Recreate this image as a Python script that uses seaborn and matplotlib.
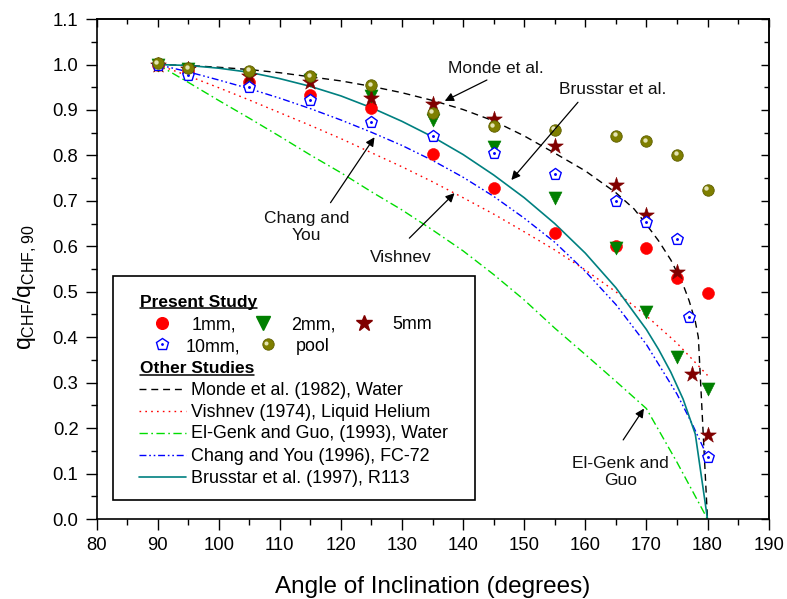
import matplotlib
matplotlib.use("Agg")
import matplotlib.pyplot as plt
from matplotlib.ticker import MultipleLocator, FormatStrFormatter
from matplotlib.transforms import offset_copy
from matplotlib.lines import Line2D
from matplotlib.patches import Rectangle
import seaborn as sns

# ---- measured CHF ratios q_CHF / q_CHF,90 ----
angle_main = [90, 95, 105, 115, 125, 135, 145, 155, 165, 170, 175, 180]
chf_1mm = [1.0, 0.985, 0.961, 0.932, 0.905, 0.804, 0.728, 0.629, 0.600, 0.597, 0.530, 0.497]
chf_2mm = [1.0, 0.990, 0.975, 0.965, 0.930, 0.877, 0.818, 0.707, 0.597, 0.456, 0.357, 0.286]
angle_5mm = [90, 95, 105, 115, 125, 135, 145, 155, 165, 170, 175, 177.5, 180]
chf_5mm = [1.0, 0.990, 0.974, 0.961, 0.927, 0.913, 0.881, 0.820, 0.734, 0.668, 0.543, 0.319, 0.185]
angle_10mm = [90, 95, 105, 115, 125, 135, 145, 155, 165, 170, 175, 177, 180]
chf_10mm = [1.0, 0.978, 0.950, 0.923, 0.874, 0.843, 0.805, 0.759, 0.699, 0.654, 0.616, 0.444, 0.136]
chf_pool = [1.003, 0.992, 0.986, 0.974, 0.954, 0.894, 0.864, 0.856, 0.843, 0.831, 0.801, 0.724]

# ---- correlations from other studies ----
angle_monde = [90, 95, 100, 105, 110, 115, 120, 125, 130, 135, 140, 145, 150, 155,
               160, 165, 168, 170, 172, 174, 176, 177, 178, 178.5, 180]
ratio_monde = [1.0, 0.998, 0.994, 0.989, 0.982, 0.973, 0.964, 0.952, 0.938, 0.921,
               0.901, 0.876, 0.843, 0.805, 0.766, 0.718, 0.682, 0.648, 0.612, 0.570,
               0.516, 0.480, 0.435, 0.400, 0.0]

angle_5deg = [90, 95, 100, 105, 110, 115, 120, 125, 130, 135, 140, 145, 150, 155,
              160, 165, 170, 175, 180]
ratio_vishnev = [1.0, 0.975, 0.949, 0.922, 0.894, 0.866, 0.837, 0.806, 0.775, 0.742,
                 0.707, 0.671, 0.632, 0.592, 0.548, 0.500, 0.447, 0.387, 0.316]
ratio_elgenk = [1.0, 0.961, 0.921, 0.882, 0.842, 0.801, 0.762, 0.720, 0.680, 0.636,
                0.590, 0.538, 0.482, 0.420, 0.362, 0.303, 0.243, 0.125, 0.0]

angle_chang = [90, 95, 100, 105, 110, 115, 120, 125, 130, 135, 140, 145, 150, 155,
               160, 165, 170, 175, 177.5, 180]
ratio_chang = [1.0, 0.984, 0.966, 0.947, 0.926, 0.903, 0.878, 0.851, 0.822, 0.789,
               0.752, 0.710, 0.662, 0.609, 0.545, 0.472, 0.384, 0.275, 0.209, 0.137]

angle_brusstar = [90, 95, 100, 105, 110, 115, 120, 125, 130, 135, 140, 145, 150, 155,
                  160, 165, 170, 172, 174, 176, 178, 180]
ratio_brusstar = [1.0, 0.998, 0.992, 0.983, 0.969, 0.952, 0.931, 0.905, 0.875, 0.841,
                  0.802, 0.757, 0.707, 0.650, 0.585, 0.509, 0.417, 0.373, 0.323, 0.264,
                  0.187, 0.0]

x_ticks = [80, 90, 100, 110, 120, 130, 140, 150, 160, 170, 180, 190]
y_ticks = [0.0, 0.1, 0.2, 0.3, 0.4, 0.5, 0.6, 0.7, 0.8, 0.9, 1.0, 1.1]

sns.set_theme(style="ticks")
plt.rcParams["font.family"] = ["Liberation Sans", "DejaVu Sans"]
plt.rcParams["mathtext.default"] = "regular"

W, H = 787, 599
fig = plt.figure(figsize=(W / 100, H / 100), dpi=100)
ax = fig.add_axes([96.5 / W, 1 - 519 / H, (768.6 - 96.5) / W, (519 - 19.1) / H])

# ---- correlation curves ----
line_styles = [
    (angle_monde, ratio_monde, "black", (0, (5, 3.5)), 1.0),
    (angle_5deg, ratio_vishnev, "#ff0000", (0, (1.2, 3.0)), 1.0),
    (angle_5deg, ratio_elgenk, "#00dd00", (0, (6, 2.5, 1.2, 2.5)), 1.0),
    (angle_chang, ratio_chang, "#0000ff", (0, (5, 2, 1.2, 2, 1.2, 2)), 1.0),
    (angle_brusstar, ratio_brusstar, "#008080", "-", 1.2),
]
for xs, ys, c, ls, lw in line_styles:
    sns.lineplot(x=xs, y=ys, ax=ax, color=c, linestyle=ls, linewidth=lw,
                 estimator=None, sort=False, legend=False, zorder=2)

# ---- measured points ----
sns.scatterplot(x=angle_main, y=chf_1mm, ax=ax, marker="o", s=74, color="#ff0000",
                edgecolor="#ff0000", linewidth=0.4, zorder=3, legend=False)
sns.scatterplot(x=angle_main, y=chf_2mm, ax=ax, marker="v", s=88, color="#008000",
                edgecolor="#008000", linewidth=0.4, zorder=3, legend=False)
sns.scatterplot(x=angle_5mm, y=chf_5mm, ax=ax, marker="*", s=140, color="#800000",
                edgecolor="#800000", linewidth=0.4, zorder=3, legend=False)
sns.scatterplot(x=angle_10mm, y=chf_10mm, ax=ax, marker="p", s=76, color="white",
                edgecolor="#0000ff", linewidth=1.0, zorder=3, legend=False)
ax.scatter(angle_10mm, chf_10mm, s=1.2, color="#0000ff", zorder=3.1)
sns.scatterplot(x=angle_main, y=chf_pool, ax=ax, marker="o", s=68, color="#7f7f00",
                edgecolor="#5e5e00", linewidth=0.6, zorder=3.2, legend=False)
ax.scatter(angle_main, chf_pool, s=10, color="#e4e4b4", linewidths=0, zorder=3.3,
           transform=offset_copy(ax.transData, fig=fig, x=-1.3, y=1.5, units="dots"))

# ---- axes ----
ax.set_xlim(80, 190)
ax.set_ylim(0.0, 1.1)
ax.set_xticks(x_ticks)
ax.set_yticks(y_ticks)
ax.yaxis.set_major_formatter(FormatStrFormatter("%.1f"))
ax.xaxis.set_minor_locator(MultipleLocator(5))
ax.yaxis.set_minor_locator(MultipleLocator(0.05))
ax.tick_params(which="major", direction="out", length=8, width=1.0, labelsize=13.3,
               pad=5, color="black", labelcolor="black", top=False, right=False)
ax.tick_params(which="minor", direction="out", length=4.3, width=1.0, color="black",
               top=False, right=False)
for sp in ax.spines.values():
    sp.set_linewidth(1.2)
    sp.set_color("black")
    sp.set_visible(True)

top = ax.secondary_xaxis("top")
top.set_xticks(x_ticks)
top.xaxis.set_minor_locator(MultipleLocator(5))
top.tick_params(which="both", direction="in", labeltop=False, width=1.0, color="black")
top.tick_params(which="major", length=6)
top.tick_params(which="minor", length=3.3)
top.spines["top"].set_linewidth(1.2)
right = ax.secondary_yaxis("right")
right.set_yticks(y_ticks)
right.yaxis.set_minor_locator(MultipleLocator(0.05))
right.tick_params(which="both", direction="in", labelright=False, width=1.0, color="black")
right.tick_params(which="major", length=6)
right.tick_params(which="minor", length=3.3)
right.spines["right"].set_linewidth(1.2)

ax.set_xlabel("Angle of Inclination (degrees)", fontsize=17.5, labelpad=16, color="black")
ax.set_ylabel(r"$q_{CHF}/q_{CHF,90}$", fontsize=16.5, color="black", va="center")
ax.yaxis.set_label_coords(-0.106, 0.463)

# ---- annotations ----
ann_font = 12.5
labels = [
    ("Monde et al.", (145.4, 0.992), (143.9, 0.966), (137.0, 0.920)),
    ("Brusstar et al.", (164.5, 0.944), (158.8, 0.917), (147.9, 0.746)),
    ("Chang and\nYou", (114.4, 0.642), (118.3, 0.696), (125.5, 0.840)),
    ("Vishnev", (129.8, 0.576), (131.2, 0.618), (138.6, 0.717)),
    ("El-Genk and\nGuo", (165.8, 0.104), (166.2, 0.174), (169.6, 0.243)),
]
for txt, pos, tail, tip in labels:
    ax.text(pos[0], pos[1], txt, fontsize=ann_font, ha="center", va="center",
            multialignment="center", color="#111111", linespacing=1.15, zorder=4)
    ax.annotate("", xy=tip, xytext=tail,
                arrowprops=dict(arrowstyle="-|>", color="black", lw=0.9,
                                mutation_scale=13, shrinkA=0, shrinkB=0),
                zorder=4)

# ---- legend panel ----
def fx(px):
    return px / W

def fy(py):
    return 1 - py / H

fig.add_artist(Rectangle((fx(113), fy(500)), fx(475) - fx(113), fy(276) - fy(500),
                         transform=fig.transFigure, facecolor="white",
                         edgecolor="black", linewidth=1.2, zorder=5))

leg_font = 12.9
heads = []
for txt, py in (("Present Study", 306.7), ("Other Studies", 373.3)):
    heads.append((fig.text(fx(140), fy(py), txt, fontsize=12.5, fontweight="bold",
                           ha="left", va="baseline", color="black", zorder=6), py))

marker_entries = [
    (162.3, 322.5, dict(marker="o", markersize=8.4, color="#ff0000",
                        markeredgecolor="#ff0000"), "1mm,", 191.7, 329.3),
    (263.3, 323.3, dict(marker="v", markersize=9.4, color="#008000",
                        markeredgecolor="#008000"), "2mm,", 291.0, 329.3),
    (364.3, 322.7, dict(marker="*", markersize=11.8, color="#800000",
                        markeredgecolor="#800000"), "5mm", 392.7, 329.3),
    (162.3, 344.3, dict(marker="p", markersize=8.7, markerfacecolor="white",
                        markeredgecolor="#0000ff", markeredgewidth=1.0), "10mm,", 186.0, 351.0),
    (267.7, 344.0, dict(marker="o", markersize=8.2, color="#7f7f00",
                        markeredgecolor="#5e5e00", markeredgewidth=0.6), "pool", 296.0, 351.0),
]
for mx, my, kw, txt, tx, ty in marker_entries:
    fig.add_artist(Line2D([fx(mx)], [fy(my)], transform=fig.transFigure,
                          linestyle="none", zorder=6, **kw))
    fig.text(fx(tx), fy(ty), txt, fontsize=leg_font, ha="left", va="baseline",
             color="black", zorder=6)
fig.add_artist(Line2D([fx(266.4)], [fy(342.5)], transform=fig.transFigure,
                      linestyle="none", marker="o", markersize=2.9, color="#e4e4b4",
                      markeredgewidth=0, zorder=6.5))
fig.add_artist(Line2D([fx(162.3)], [fy(344.3)], transform=fig.transFigure,
                      linestyle="none", marker="o", markersize=1.0, color="#0000ff",
                      zorder=6.5))

line_entries = [
    ("Monde et al. (1982), Water", 389.0, 395.0),
    ("Vishnev (1974), Liquid Helium", 411.0, 416.7),
    ("El-Genk and Guo, (1993), Water", 433.3, 438.3),
    ("Chang and You (1996), FC-72", 455.3, 461.0),
    ("Brusstar et al. (1997), R113", 477.3, 483.3),
]
for (txt, ly, ty), (_, _, c, ls, lw) in zip(line_entries, line_styles):
    fig.add_artist(Line2D([fx(139.3), fx(186.0)], [fy(ly), fy(ly)],
                          transform=fig.transFigure, color=c, linestyle=ls,
                          linewidth=lw, zorder=6))
    fig.text(fx(191.0), fy(ty), txt, fontsize=leg_font, ha="left", va="baseline",
             color="black", zorder=6)

fig.canvas.draw()
renderer = fig.canvas.get_renderer()
for t, py in heads:
    bb = t.get_window_extent(renderer=renderer)
    fig.add_artist(Line2D([bb.x0 / W, bb.x1 / W], [fy(py + 1.6), fy(py + 1.6)],
                          transform=fig.transFigure, color="black", linewidth=1.1,
                          zorder=6))

fig.savefig("out.png", dpi=100)
